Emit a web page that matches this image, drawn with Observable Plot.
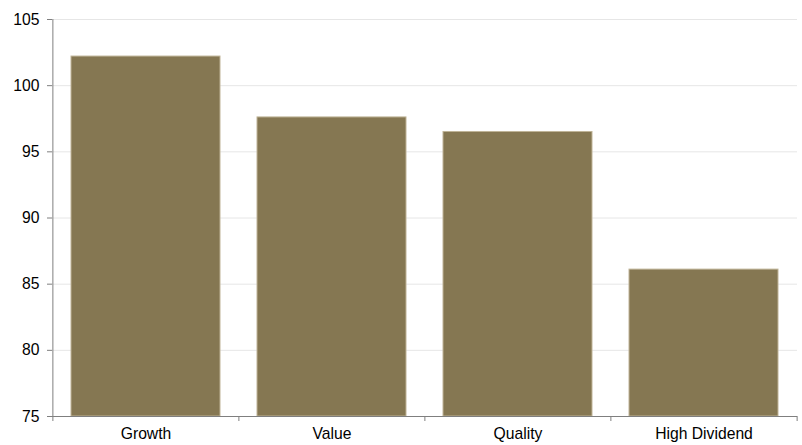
<!DOCTYPE html>
<html>
<head>
<meta charset="utf-8">
<script src="https://cdn.jsdelivr.net/npm/d3@7"></script>
<script src="https://cdn.jsdelivr.net/npm/@observablehq/plot@0.6"></script>
<style>
  html, body { margin: 0; padding: 0; background: #fff; }
  #chart svg { display: block; }
</style>
</head>
<body>
<div id="chart"></div>
<script>
// Index level by investment style
const categories = ["Growth", "Value", "Quality", "High Dividend"];
const values = [102.2, 97.6, 96.5, 86.1];
const yTicks = [75, 80, 85, 90, 95, 100, 105];

const data = categories.map((c, i) => ({ style: c, value: values[i] }));

const W = 802, H = 445;
const mL = 52, mR = 5, mT = 19, mB = 29;
const step = (W - mL - mR) / categories.length;
const axisColor = "#7f7f7f";
const font = "Liberation Sans, Arial, sans-serif";

const chart = Plot.plot({
  width: W,
  height: H,
  marginLeft: mL,
  marginRight: mR,
  marginTop: mT,
  marginBottom: mB,
  style: { fontFamily: font, fontSize: "15.7px", color: "#000", background: "#fff" },
  x: { domain: categories, paddingInner: 0.2, paddingOuter: 0.1, label: null },
  y: { domain: [75, 105], ticks: yTicks, label: null },
  marks: [
    Plot.gridY(yTicks.filter(t => t > 75), { stroke: "#e6e6e6", strokeOpacity: 1 }),
    Plot.barY(data, {
      x: "style", y1: 75, y2: "value",
      fill: "#857752", stroke: "#bfb497", strokeWidth: 1
    }),
    // y axis line along the left edge of the first band
    Plot.ruleX(categories.slice(0, 1), { x: d => d, dx: -step / 2, y1: 105, y2: 75, stroke: axisColor }),
    Plot.axisY(yTicks, { tickSize: 5, tickPadding: 8, stroke: axisColor, fill: "#000", fontSize: "15.7px" }),
    // x axis baseline and category boundary ticks
    Plot.ruleY([75], { stroke: axisColor }),
    Plot.ruleX(categories, { x: d => d, dx: -step / 2, y1: 75, y2: 75, insetBottom: -5, stroke: axisColor }),
    Plot.ruleX(categories.slice(-1), { x: d => d, dx: step / 2, y1: 75, y2: 75, insetBottom: -5, stroke: axisColor }),
    Plot.axisX({ tickSize: 0, tickPadding: 11, fill: "#000", fontSize: "15.7px" })
  ]
});

document.getElementById("chart").appendChild(chart);
</script>
</body>
</html>
